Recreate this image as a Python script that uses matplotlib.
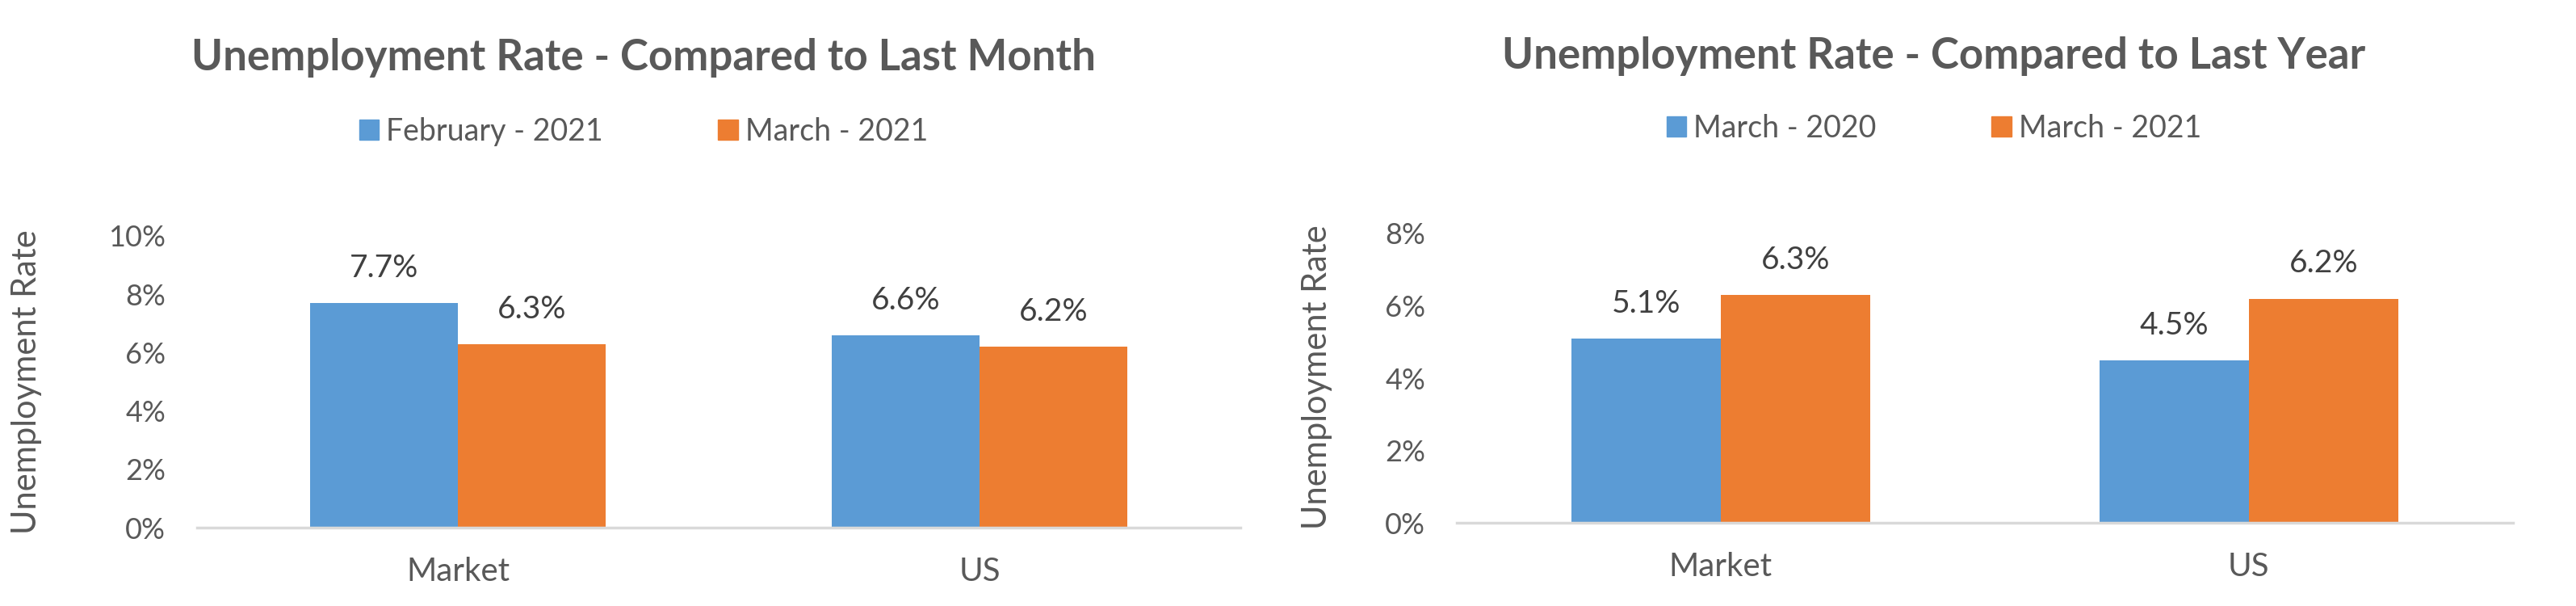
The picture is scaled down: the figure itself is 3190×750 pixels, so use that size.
import matplotlib.pyplot as plt
from matplotlib.patches import Patch

plt.rcParams['font.family'] = ['Lato', 'DejaVu Sans']

categories = ["Market", "US"]

month_title = "Unemployment Rate - Compared to Last Month"
month_series = ["February - 2021", "March - 2021"]
month_values = [[7.7, 6.6], [6.3, 6.2]]
month_ticks = [0, 2, 4, 6, 8, 10]

year_title = "Unemployment Rate - Compared to Last Year"
year_series = ["March - 2020", "March - 2021"]
year_values = [[5.1, 4.5], [6.3, 6.2]]
year_ticks = [0, 2, 4, 6, 8]

colors = ["#5B9BD5", "#ED7D31"]
text_color = "#595959"

fig = plt.figure(figsize=(31.9, 7.5), dpi=100)


def draw_panel(rect, title, series, values, ticks, center_x, title_y, legend_y, ylabel_x):
    ax = fig.add_axes(rect)
    width = 0.283
    x = range(len(categories))
    for i, (name, vals) in enumerate(zip(series, values)):
        pos = [c + (i - 0.5) * width for c in x]
        bars = ax.bar(pos, vals, width=width, color=colors[i], label=name)
        for b, v in zip(bars, vals):
            ax.annotate(f"{v:.1f}%", (b.get_x() + b.get_width() / 2, v),
                        xytext=(0, 31), textcoords="offset points",
                        ha="center", va="center", fontsize=28, color="#404040")
    ax.set_xlim(-0.5, len(categories) - 0.5)
    ax.set_ylim(ticks[0], ticks[-1])
    ax.set_yticks(ticks)
    ax.set_yticklabels([f"{t}%" for t in ticks])
    ax.set_xticks(list(x))
    ax.set_xticklabels(categories)
    ax.tick_params(axis="both", length=0, colors=text_color)
    ax.tick_params(axis="y", pad=28, labelsize=26)
    ax.tick_params(axis="x", pad=26, labelsize=29)
    for s in ["top", "right", "left"]:
        ax.spines[s].set_visible(False)
    ax.spines["bottom"].set_color("#D9D9D9")
    ax.spines["bottom"].set_linewidth(2.5)

    fig.text(ylabel_x, rect[1] + 0.24, "Unemployment Rate", rotation=90,
             ha="center", va="center", fontsize=30, color=text_color)
    fig.text(center_x, title_y, title, ha="center", va="center",
             fontsize=38, fontweight="bold", color=text_color)
    handles = [Patch(color=c) for c in colors]
    fig.legend(handles, series, loc="center", bbox_to_anchor=(center_x, legend_y),
               ncol=2, frameon=False, fontsize=27, labelcolor=text_color,
               handlelength=0.65, handleheight=0.65, handletextpad=0.25,
               columnspacing=3.8)
    return ax


draw_panel([0.0765, 0.1293, 0.405, 0.4814], month_title, month_series, month_values,
           month_ticks, 797 / 3190, 1 - 72 / 750, 1 - 163 / 750, 33 / 3190)
draw_panel([0.5655, 0.1373, 0.41, 0.4774], year_title, year_series, year_values,
           year_ticks, 2395 / 3190, 1 - 70 / 750, 1 - 159 / 750, 1631 / 3190)

fig.savefig("out.png", dpi=100, facecolor="white")
